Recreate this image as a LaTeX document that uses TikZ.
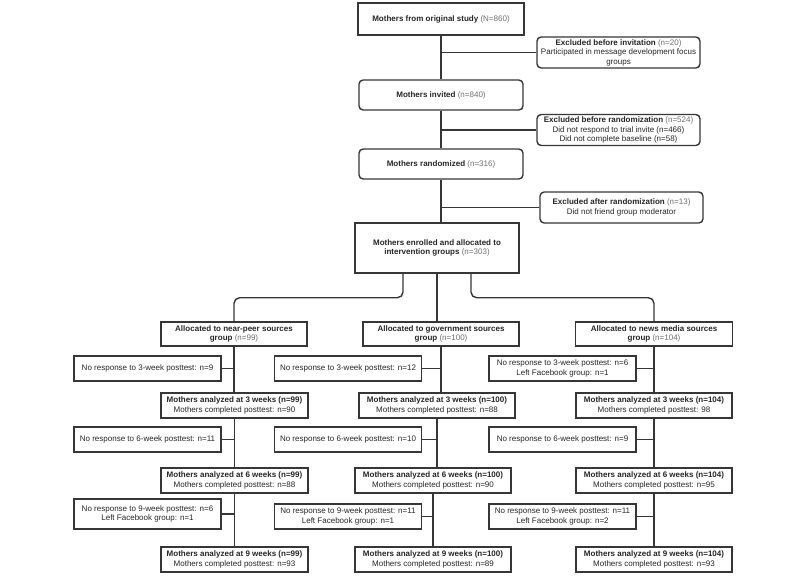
\documentclass[tikz,border=0pt]{standalone}
\usepackage{fontspec}
\setmainfont{Liberation Sans}
\usetikzlibrary{calc}
\definecolor{linegray}{HTML}{363636}
\definecolor{txtgray}{HTML}{262626}
\definecolor{numgray}{HTML}{6E6E6E}
\newcommand{\gn}[1]{\textcolor{numgray}{#1}}

\begin{document}
\begin{tikzpicture}[x=0.025cm, y=-0.025cm,
    box/.style={draw=linegray, line width=1pt, align=center, inner sep=1pt,
      text=txtgray, font=\fontsize{5.7}{6.8}\selectfont},
    rbox/.style={box, rounded corners=3pt},
    link/.style={draw=linegray, line width=1pt},
    side/.style={box, minimum width=3.675cm, minimum height=0.625cm},
    mainA/.style={box, minimum width=3.675cm, minimum height=0.625cm},
    mainB/.style={box, minimum width=3.9cm, minimum height=0.625cm}]
\useasboundingbox (0,0) rectangle (800,585);

% screening
\node[box, minimum width=4.15cm, minimum height=0.8cm] (orig) at (441,19)
  {\textbf{Mothers from original study} \gn{(N=860)}};
\node[rbox, minimum width=4.075cm, minimum height=0.775cm] (exinv) at (618.5,52.5)
  {\textbf{Excluded before invitation} \gn{(n=20)}\\Participated in message development focus\\groups};
\node[rbox, minimum width=4.1cm, minimum height=0.75cm] (invited) at (441,95)
  {\textbf{Mothers invited} \gn{(n=840)}};
\node[rbox, minimum width=4.075cm, minimum height=0.775cm] (exrand) at (618.5,130)
  {\textbf{Excluded before randomization} \gn{(n=524)}\\Did not respond to trial invite (n=466)\\Did not complete baseline (n=58)};
\node[rbox, minimum width=4.1cm, minimum height=0.75cm] (rand) at (441,164)
  {\textbf{Mothers randomized} \gn{(n=316)}};
\node[rbox, minimum width=4.075cm, minimum height=0.775cm] (exafter) at (621.5,207.5)
  {\textbf{Excluded after randomization} \gn{(n=13)}\\Did not friend group moderator};
\node[box, minimum width=4.1cm, minimum height=1.25cm] (enrol) at (437,248)
  {\textbf{Mothers enrolled and allocated to}\\\textbf{intervention groups} \gn{(n=303)}};

\draw[link] (orig) -- (invited);
\draw[link] (invited) -- (rand);
\draw[link] (rand.south) -- (rand.south |- enrol.north);
\draw[link] (exinv.west) -- (exinv.west -| orig.south);
\draw[link] (exrand.west) -- (exrand.west -| orig.south);
\draw[link] (exafter.west) -- (exafter.west -| orig.south);

% allocation
\node[box, minimum width=3.65cm, minimum height=0.6cm] (alnp) at (234,334)
  {\textbf{Allocated to near-peer sources}\\\textbf{group} \gn{(n=99)}};
\node[box, minimum width=3.9cm, minimum height=0.6cm] (algov) at (441,334)
  {\textbf{Allocated to government sources}\\\textbf{group} \gn{(n=100)}};
\node[box, minimum width=3.925cm, minimum height=0.6cm] (alnm) at (654,334)
  {\textbf{Allocated to news media sources}\\\textbf{group} \gn{(n=104)}};

\draw[link, rounded corners=4pt] ($(enrol.south)+(-34,0)$) -- ++(0,24) -| (alnp.north);
\draw[link, rounded corners=4pt] ($(enrol.south)+(34,0)$) -- ++(0,24) -| (alnm.north);
\draw[link] (enrol.south) -- (enrol.south |- algov.north);

% near-peer column
\node[side] (nr3a) at (147.5,368.5) {No response to 3-week posttest: n=9};
\node[mainA] (an3a) at (234.5,405.5)
  {\textbf{Mothers analyzed at 3 weeks (n=99)}\\Mothers completed posttest: n=90};
\node[side] (nr6a) at (147.5,439.5) {No response to 6-week posttest: n=11};
\node[mainA] (an6a) at (234.5,480.5)
  {\textbf{Mothers analyzed at 6 weeks (n=99)}\\Mothers completed posttest: n=88};
\node[side, minimum height=0.75cm] (nr9a) at (147.5,514)
  {No response to 9-week posttest: n=6\\Left Facebook group: n=1};
\node[mainA] (an9a) at (234.5,559.5)
  {\textbf{Mothers analyzed at 9 weeks (n=99)}\\Mothers completed posttest: n=93};

% government column
\node[side] (nr3b) at (348,368.5) {No response to 3-week posttest: n=12};
\node[mainB] (an3b) at (437,405.5)
  {\textbf{Mothers analyzed at 3 weeks (n=100)}\\Mothers completed posttest: n=88};
\node[side] (nr6b) at (348,439.5) {No response to 6-week posttest: n=10};
\node[mainB] (an6b) at (433,480.5)
  {\textbf{Mothers analyzed at 6 weeks (n=100)}\\Mothers completed posttest: n=90};
\node[side] (nr9b) at (348,516.5)
  {No response to 9-week posttest: n=11\\Left Facebook group: n=1};
\node[mainB] (an9b) at (433,559.5)
  {\textbf{Mothers analyzed at 9 weeks (n=100)}\\Mothers completed posttest: n=89};

% news media column
\node[side] (nr3c) at (562.5,368.5)
  {No response to 3-week posttest: n=6\\Left Facebook group: n=1};
\node[mainB] (an3c) at (654,405.5)
  {\textbf{Mothers analyzed at 3 weeks (n=104)}\\Mothers completed posttest: 98};
\node[side] (nr6c) at (562.5,439.5) {No response to 6-week posttest: n=9};
\node[mainB] (an6c) at (654,480.5)
  {\textbf{Mothers analyzed at 6 weeks (n=104)}\\Mothers completed posttest: n=95};
\node[side] (nr9c) at (562.5,516.5)
  {No response to 9-week posttest: n=11\\Left Facebook group: n=2};
\node[mainB] (an9c) at (654,559.5)
  {\textbf{Mothers analyzed at 9 weeks (n=104)}\\Mothers completed posttest: n=93};

% column links
\draw[link] (alnp.south) -- (alnp.south |- an3a.north);
\draw[link] (an3a) -- (an6a);
\draw[link] (an6a) -- (an9a);
\draw[link] (nr3a.east) -- (nr3a.east -| alnp.south);
\draw[link] (nr6a.east) -- (nr6a.east -| an3a.south);
\draw[link] (nr9a.east) -- (nr9a.east -| an6a.south);

\draw[link] (algov.south) -- (algov.south |- an3b.north);
\draw[link] (an3b.south) -- (an3b.south |- an6b.north);
\draw[link] (an6b) -- (an9b);
\draw[link] (nr3b.east) -- (nr3b.east -| algov.south);
\draw[link] (nr6b.east) -- (nr6b.east -| an3b.south);
\draw[link] (nr9b.east) -- (nr9b.east -| an6b.south);

\draw[link] (alnm) -- (an3c);
\draw[link] (an3c) -- (an6c);
\draw[link] (an6c) -- (an9c);
\draw[link] (nr3c.east) -- (nr3c.east -| alnm.south);
\draw[link] (nr6c.east) -- (nr6c.east -| an3c.south);
\draw[link] (nr9c.east) -- (nr9c.east -| an6c.south);
\end{tikzpicture}
\end{document}
